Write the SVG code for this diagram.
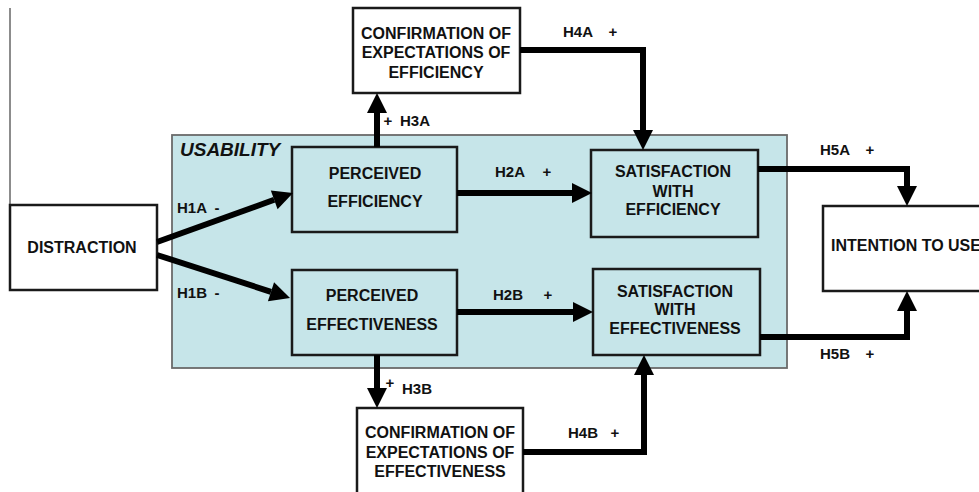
<svg xmlns="http://www.w3.org/2000/svg" width="979" height="492" viewBox="0 0 979 492">
<style>
.box{fill:#ffffff;stroke:#1a1a1a;stroke-width:2.5}
.inner{fill:#c6e5e9;stroke:#1a1a1a;stroke-width:2.5}
.t{font-family:"Liberation Sans",Arial,sans-serif;font-weight:bold;font-size:16px;fill:#111;text-anchor:middle}
.lbl{font-family:"Liberation Sans",Arial,sans-serif;font-weight:bold;font-size:15px;fill:#111}
.sg{font-family:"Liberation Sans",Arial,sans-serif;font-weight:bold;font-size:15px;fill:#111;text-anchor:middle}
.c{fill:none;stroke:#000;stroke-width:6;marker-end:url(#ah)}
</style>
<defs>
<marker id="ah" markerUnits="userSpaceOnUse" markerWidth="22" markerHeight="22" viewBox="0 -11 22 22" refX="0" refY="0" orient="auto" overflow="visible">
<path d="M0,-10 L20,0 L0,10 z" fill="#000"/>
</marker>
</defs>
<rect width="979" height="492" fill="#ffffff"/>
<line x1="10" y1="8" x2="10" y2="205" stroke="#666" stroke-width="1.5"/>

<g id="usability">
<rect x="172" y="135" width="615" height="233" fill="#c6e5e9" stroke="#6a6a6a" stroke-width="1.8"/>
<text x="180" y="156" font-family="'Liberation Sans',Arial,sans-serif" font-weight="bold" font-style="italic" font-size="19" fill="#111">USABILITY</text>
</g>

<g id="distraction">
<rect class="box" x="10" y="205" width="147" height="85"/>
<text class="t" x="82" y="253">DISTRACTION</text>
</g>

<g id="conf-efficiency">
<rect class="box" x="353" y="8" width="167" height="85"/>
<text class="t" x="436" y="39">CONFIRMATION OF</text>
<text class="t" x="436" y="58">EXPECTATIONS OF</text>
<text class="t" x="436" y="78">EFFICIENCY</text>
</g>

<g id="conf-effectiveness">
<rect class="box" x="357" y="408" width="166" height="100"/>
<text class="t" x="440" y="438">CONFIRMATION OF</text>
<text class="t" x="440" y="458">EXPECTATIONS OF</text>
<text class="t" x="440" y="477">EFFECTIVENESS</text>
</g>

<g id="perceived-efficiency">
<rect class="inner" x="292" y="147" width="165" height="85"/>
<text class="t" x="375" y="179">PERCEIVED</text>
<text class="t" x="375" y="207">EFFICIENCY</text>
</g>

<g id="perceived-effectiveness">
<rect class="inner" x="292" y="270" width="165" height="85"/>
<text class="t" x="372" y="301">PERCEIVED</text>
<text class="t" x="372" y="330">EFFECTIVENESS</text>
</g>

<g id="satisfaction-efficiency">
<rect class="inner" x="591" y="150" width="167" height="87"/>
<text class="t" x="673" y="177">SATISFACTION</text>
<text class="t" x="673" y="197">WITH</text>
<text class="t" x="673" y="215">EFFICIENCY</text>
</g>

<g id="satisfaction-effectiveness">
<rect class="inner" x="593" y="269" width="167" height="86"/>
<text class="t" x="675" y="297">SATISFACTION</text>
<text class="t" x="675" y="315">WITH</text>
<text class="t" x="675" y="334">EFFECTIVENESS</text>
</g>

<g id="intention-to-use">
<rect class="box" x="823" y="206" width="170" height="85"/>
<text x="831" y="251" font-family="'Liberation Sans',Arial,sans-serif" font-weight="bold" font-size="16" fill="#111">INTENTION TO USE</text>
</g>

<g id="connectors">
<path class="c" d="M157,242 L274.2,199.8"/>
<path class="c" d="M157,255 L271,291.8"/>
<path class="c" d="M457,193 H572"/>
<path class="c" d="M457,312 H573"/>
<path class="c" d="M377,147 V113"/>
<path class="c" d="M377,355 V388"/>
<path class="c" d="M520,50 H643 V130"/>
<path class="c" d="M523,452 H644 V375"/>
<path class="c" d="M758,169 H907 V186"/>
<path class="c" d="M760,337 H907 V311"/>
</g>

<g id="labels">
<text class="lbl" x="177" y="213">H1A</text><text class="sg" x="217" y="213">-</text>
<text class="lbl" x="177" y="298">H1B</text><text class="sg" x="217" y="298">-</text>
<text class="lbl" x="495" y="177">H2A</text><text class="sg" x="547" y="177">+</text>
<text class="lbl" x="493" y="300">H2B</text><text class="sg" x="548" y="300">+</text>
<text class="sg" x="388" y="126">+</text><text class="lbl" x="400" y="126">H3A</text>
<text class="sg" x="390" y="388" font-size="12">+</text><text class="lbl" x="402" y="394">H3B</text>
<text class="lbl" x="563" y="37">H4A</text><text class="sg" x="613" y="37">+</text>
<text class="lbl" x="568" y="438">H4B</text><text class="sg" x="615" y="438">+</text>
<text class="lbl" x="820" y="155">H5A</text><text class="sg" x="870" y="155">+</text>
<text class="lbl" x="820" y="359">H5B</text><text class="sg" x="870" y="359">+</text>
</g>
</svg>
